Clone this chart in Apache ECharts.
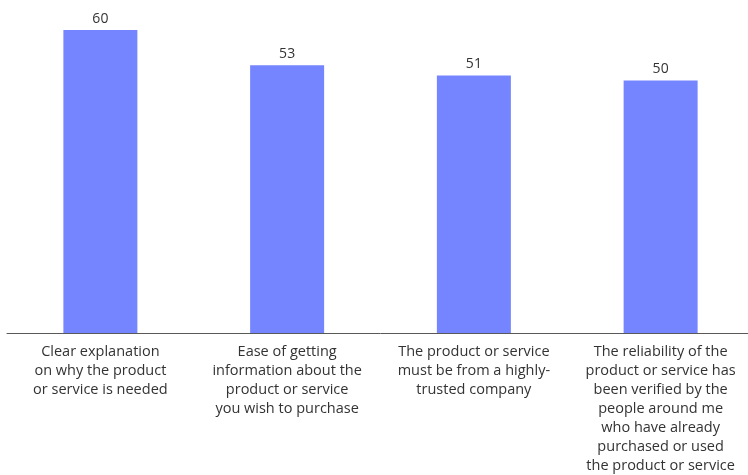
<!DOCTYPE html>
<html>
<head>
<meta charset="utf-8">
<script src="https://cdn.jsdelivr.net/npm/echarts@6/dist/echarts.min.js"></script>
<style>
  html, body { margin: 0; padding: 0; background: #fff; overflow: hidden; }
  #chart { width: 760px; height: 475px; }
</style>
</head>
<body>
<div id="chart"></div>
<script>
const categories = [
  'Clear explanation\non why the product\nor service is needed',
  'Ease of getting\ninformation about the\nproduct or service\nyou wish to purchase',
  'The product or service\nmust be from a highly-\ntrusted company',
  'The reliability of the\nproduct or service has\nbeen verified by the\npeople around me\nwho have already\npurchased or used\nthe product or service'
];
const values = [60, 53, 51, 50];

// chart div is slightly wider than the window: the last category runs past the right edge
const chart = echarts.init(document.getElementById('chart'));
chart.setOption({
  animation: false,
  grid: { left: 7, width: 747, top: 30, bottom: 141, containLabel: false },
  xAxis: {
    type: 'category',
    data: categories,
    axisLine: { lineStyle: { color: '#595959', width: 1 } },
    axisTick: { show: false },
    axisLabel: {
      interval: 0,
      color: '#333',
      fontFamily: 'Open Sans',
      fontSize: 14.5,
      lineHeight: 19,
      margin: 9
    }
  },
  yAxis: {
    type: 'value',
    min: 0,
    max: 60,
    show: false,
    splitLine: { show: false }
  },
  series: [{
    type: 'bar',
    data: values,
    barWidth: 74,
    itemStyle: { color: '#7585ff' },
    label: {
      show: true,
      position: 'top',
      color: '#333',
      fontFamily: 'Open Sans',
      fontSize: 14,
      distance: 4
    }
  }]
});
</script>
</body>
</html>
